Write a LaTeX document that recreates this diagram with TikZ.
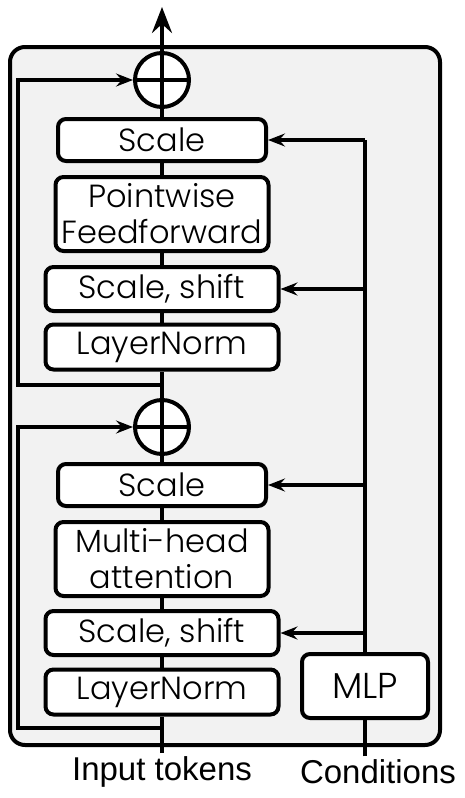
\documentclass[tikz,border=0pt]{standalone}
\usepackage{fontspec}
\setmainfont{Liberation Sans}
\newfontfamily\boxfont{Poppins Light}
\usetikzlibrary{arrows.meta}

\tikzset{
    blk/.style={draw, line width=4pt, rounded corners=8pt, fill=white, inner sep=0pt,
        align=center, font=\boxfont\fontsize{32}{36}\selectfont},
    addop/.style={draw, circle, line width=4pt, fill=white, minimum size=54pt, inner sep=0pt,
        path picture={\draw[line width=4pt] (path picture bounding box.north) -- (path picture bounding box.south)
            (path picture bounding box.west) -- (path picture bounding box.east);}},
    wire/.style={line width=4pt},
    arr/.style={wire, -{Stealth[length=17pt, width=13pt, inset=6pt]}},
    bigarr/.style={wire, -{Stealth[length=26pt, width=20pt, inset=9pt]}}
}

\begin{document}
\begin{tikzpicture}[x=1pt, y=-1pt]
            \useasboundingbox (0,0) rectangle (465,798);
            \draw[line width=4pt, rounded corners=15pt, fill=gray!10] (10,47) rectangle (440,745);

            % token path
            \node[font=\fontsize{33}{38}\selectfont] (in) at (162,772) {Input tokens};
            \node[blk, minimum width=233pt, minimum height=45pt] (ln1) at (162,692) {LayerNorm};
            \node[blk, minimum width=233pt, minimum height=44pt] (ss1) at (162,633) {Scale, shift};
            \node[blk, minimum width=213pt, minimum height=74pt] (mha) at (162,559) {Multi-head\\attention};
            \node[blk, minimum width=208pt, minimum height=42pt] (sc1) at (162,485) {Scale};
            \node[addop] (add1) at (162,427) {};
            \node[blk, minimum width=233pt, minimum height=45pt] (ln2) at (162,347) {LayerNorm};
            \node[blk, minimum width=233pt, minimum height=44pt] (ss2) at (162,289) {Scale, shift};
            \node[blk, minimum width=213pt, minimum height=74pt] (ff) at (162,214) {Pointwise\\Feedforward};
            \node[blk, minimum width=208pt, minimum height=42pt] (sc2) at (162,140) {Scale};
            \node[addop] (add2) at (162,80) {};
            \coordinate (out) at (162,7);

            \draw[wire] (in) -- (ln1);
            \draw[wire] (ln1) -- (ss1);
            \draw[wire] (ss1) -- (mha);
            \draw[wire] (mha) -- (sc1);
            \draw[wire] (sc1) -- (add1);
            \draw[wire] (add1) -- (ln2);
            \draw[wire] (ln2) -- (ss2);
            \draw[wire] (ss2) -- (ff);
            \draw[wire] (ff) -- (sc2);
            \draw[wire] (sc2) -- (add2);
            \draw[bigarr] (add2) -- (out);

            % residuals
            \coordinate (skip1) at (162,728);
            \coordinate (skip2) at (162,385);
            \draw[arr] (skip1) -- (18,728) |- (add1.west);
            \draw[arr] (skip2) -- (18,385) |- (add2.west);

            % conditioning
            \node[font=\fontsize{33}{38}\selectfont] (cond) at (378,772) {Conditions};
            \node[blk, minimum width=126pt, minimum height=64pt, font=\boxfont\fontsize{36}{40}\selectfont] (mlp) at (365,686) {MLP};
            \coordinate (ctop) at (365,140);
            \draw[wire] (cond.north -| mlp) -- (mlp);
            \draw[wire] (mlp) -- (ctop);
            \draw[arr] (ss1.east -| mlp) -- (ss1.east);
            \draw[arr] (sc1.east -| mlp) -- (sc1.east);
            \draw[arr] (ss2.east -| mlp) -- (ss2.east);
            \draw[arr] (ctop) -- (sc2.east);
        \end{tikzpicture}
\end{document}
